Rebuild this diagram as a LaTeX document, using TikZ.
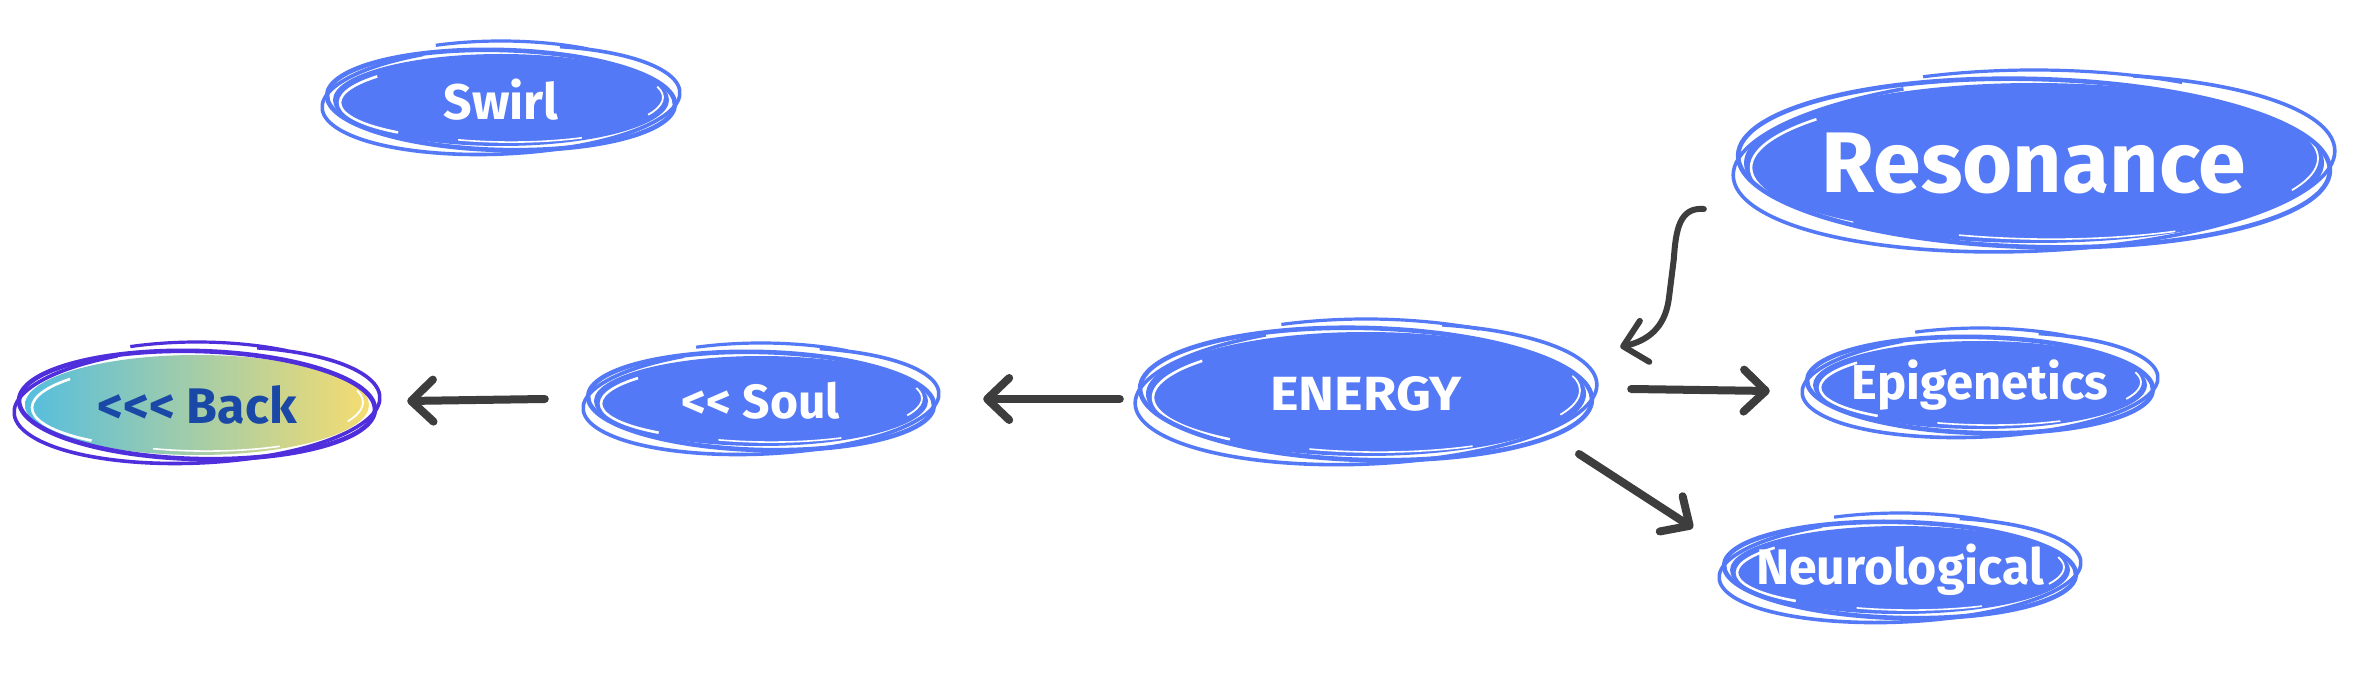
\documentclass[tikz,border=0pt]{standalone}
\usepackage{fontspec}
\setmainfont{Fira Sans}[Ligatures=TeXOff]
\usetikzlibrary{arrows.meta,shapes.geometric}
\definecolor{blu}{HTML}{5479F6}
\definecolor{backring}{HTML}{4F2EDC}
\definecolor{backtext}{HTML}{1A48A6}
\definecolor{cyanish}{HTML}{55BEDE}
\definecolor{yellowish}{HTML}{F5DC70}
\definecolor{arrowgray}{HTML}{3D3D3D}
\tikzset{
  conn/.style={draw=arrowgray, line width=8pt, line cap=round,
    -{Straight Barb[length=22pt, width=42pt, round]}},
  bubblefill/.style={fill=blu, text=white},
  backfill/.style={left color=cyanish, right color=yellowish, text=backtext},
}
\newcommand\bubble[8]{%
  \node[ellipse, inner sep=0pt, minimum width={2*#4pt}, minimum height={2*#5pt}, #6] (#1) at (#2,#3) {\makebox[0pt]{#8}};
  \begin{scope}[shift={(#2,#3)}]
    \draw[white, line width=2.6pt, rotate=1] (140:{#4pt-7pt} and {#5pt-6pt}) arc [start angle=140, end angle=230, x radius={#4pt-7pt}, y radius={#5pt-6pt}];
    \draw[white, line width=1.6pt, rotate=-1] (255:{#4pt-5pt} and {#5pt-4pt}) arc [start angle=255, end angle=300, x radius={#4pt-5pt}, y radius={#5pt-4pt}];
    \draw[white, line width=1.8pt, rotate=1] (335:{#4pt-6pt} and {#5pt-5pt}) arc [start angle=335, end angle=375, x radius={#4pt-6pt}, y radius={#5pt-5pt}];
    \draw[#7, line width=4.6pt, rotate=-1.5] (0,0) ellipse [x radius={#4pt+6pt}, y radius={#5pt+4pt}];
    \draw[#7, line width=3.6pt, rotate=2.5] (115:{#4pt+11pt} and {#5pt+8pt}) arc [start angle=115, end angle=430, x radius={#4pt+11pt}, y radius={#5pt+8pt}];
    \draw[#7, line width=3.2pt] (112:{#4pt+6pt} and {#5pt+13pt}) arc [start angle=112, end angle=60, x radius={#4pt+6pt}, y radius={#5pt+13pt}];
  \end{scope}}
\begin{document}
\begin{tikzpicture}[x=1pt, y=-1pt]
\useasboundingbox[fill=white] (0,0) rectangle (2374,676);
\bubble{swirl}{501}{100}{168}{46}{bubblefill}{blu}{\fontsize{50pt}{56pt}\selectfont\bfseries Swirl}
\bubble{back}{197}{405}{172}{50}{backfill}{backring}{\fontsize{50pt}{56pt}\selectfont\bfseries <<< Back}
\bubble{soul}{761}{401}{167}{45}{bubblefill}{blu}{\fontsize{48pt}{54pt}\selectfont\bfseries << Soul}
\bubble{energy}{1366}{394}{220}{62}{bubblefill}{blu}{\fontsize{48pt}{54pt}\selectfont\bfseries \scalebox{1.13}[1]{ENERGY}}
\bubble{res}{2034}{163}{290}{80}{bubblefill}{blu}{\fontsize{86pt}{96pt}\selectfont\bfseries Resonance}
\bubble{epi}{1980}{385}{167}{44}{bubblefill}{blu}{\fontsize{49pt}{55pt}\selectfont\bfseries Epigenetics}
\bubble{neuro}{1900}{570}{170}{44}{bubblefill}{blu}{\fontsize{50pt}{56pt}\selectfont\bfseries Neurological}

\draw[conn] ([shift={(-26,5)}]energy.west) -- ([shift={(55,-2)}]soul.east);
\draw[conn] ([shift={(-49,-2)}]soul.west) -- ([shift={(38,-4)}]back.east);
\draw[conn] ([shift={(45,-5)}]energy.east) -- ([shift={(-43,6)}]epi.west);
\draw[conn] ([shift={(213,60)}]energy.center) -- ([shift={(-207,-42)}]neuro.center);
\draw[conn, line width=6pt] ([shift={(-40,46)}]res.west) .. controls +(-24,-2) and +(2,-30) .. ++(-30,50) -- ++(-5,40) .. controls +(-4,30) and +(26,-6) .. ([shift={(34,-47)}]energy.east);
\end{tikzpicture}
\end{document}
